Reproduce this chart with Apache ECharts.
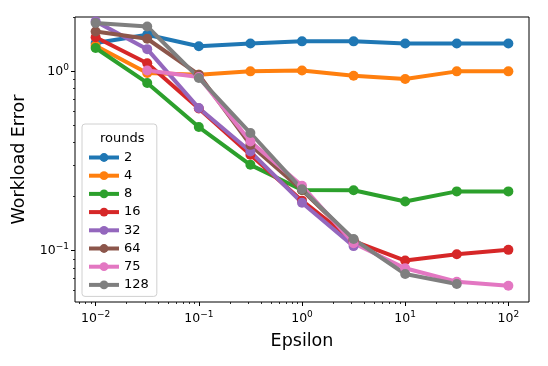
<!DOCTYPE html>
<html>
<head>
<meta charset="utf-8">
<script src="https://cdn.jsdelivr.net/npm/echarts@6/dist/echarts.min.js"></script>
<style>
  html, body { margin: 0; padding: 0; background: #fff; }
  #chart { width: 548px; height: 366px; }
</style>
</head>
<body>
<div id="chart"></div>
<script>
// epsilon values (x)
var epsilon = [0.01, 0.03162, 0.1, 0.3162, 1, 3.162, 10, 31.62, 100]

// workload error per number of rounds (null = no point)
var rounds = ['2', '4', '8', '16', '32', '64', '75', '128']
var err2 = [1.44, 1.60, 1.38, 1.43, 1.47, 1.47, 1.43, 1.43, 1.43]
var err4 = [1.39, 0.98, 0.958, 1.0, 1.01, 0.946, 0.907, 1.0, 1.0]
var err8 = [1.35, 0.862, 0.489, 0.301, 0.218, 0.217, 0.188, 0.214, 0.214]
var err16 = [1.55, 1.11, 0.62, 0.343, 0.19, 0.113, 0.088, 0.0955, 0.101]
var err32 = [1.90, 1.33, 0.624, 0.357, 0.185, 0.106, null, null, null]
var err64 = [1.67, 1.52, 0.958, 0.389, 0.218, 0.115, null, null, null]
var err75 = [null, 1.01, 0.93, 0.406, 0.23, 0.11, 0.0797, 0.0671, 0.0637]
var err128 = [1.86, 1.78, 0.919, 0.453, 0.22, 0.116, 0.0741, 0.0652, null]

// tick values
var xMajor = [0.01, 0.1, 1, 10, 100]
var yMajor = [0.1, 1]

var colors = ['#1f77b4', '#ff7f0e', '#2ca02c', '#d62728', '#9467bd', '#8c564b', '#e377c2', '#7f7f7f']
var allErr = [err2, err4, err8, err16, err32, err64, err75, err128]

function minorTicks(lo, hi) {
  var out = []
  for (var e = -3; e <= 2; e++) {
    for (var m = 2; m <= 9; m++) {
      var v = m * Math.pow(10, e)
      if (v >= lo && v <= hi) out.push(v)
    }
  }
  return out
}

var xMin = Math.pow(10, -2.2)
var xMax = Math.pow(10, 2.2)
var yMin = 0.0517
var yMax = 2.01

function powLabel(v) {
  var e = Math.round(Math.log10(v))
  return '{b|10}{s|' + String(e).replace('-', '\u2212') + '}'
}

var labelRich = {
  b: { fontSize: 12.5, fontFamily: 'DejaVu Sans', color: '#000' },
  s: { fontSize: 9, fontFamily: 'DejaVu Sans', color: '#000', padding: [0, 0, 8, 0] }
}

var series = rounds.map(function(name, k) {
  var pts = []
  allErr[k].forEach(function(v, i) {
    if (v !== null) pts.push([epsilon[i], v])
  })
  return {
    name: name,
    type: 'line',
    data: pts,
    symbol: 'circle',
    symbolSize: 10,
    showSymbol: true,
    lineStyle: { width: 4, color: colors[k] },
    itemStyle: { color: colors[k] },
    emphasis: { disabled: true },
    animation: false
  }
})

var chart = echarts.init(document.getElementById('chart'), null, { renderer: 'canvas' })
chart.setOption({
  backgroundColor: '#fff',
  animation: false,
  title: {
    text: 'rounds',
    left: 95,
    top: 127,
    textStyle: { fontSize: 13, fontWeight: 'normal', fontFamily: 'DejaVu Sans', color: '#000' }
  },
  legend: {
    orient: 'vertical',
    left: 82,
    top: 124,
    padding: [27, 8, 5, 5],
    itemWidth: 30,
    itemHeight: 11,
    itemGap: 5.2,
    borderColor: '#d0d0d0',
    borderWidth: 1,
    borderRadius: 3,
    backgroundColor: 'rgba(255,255,255,0.8)',
    lineStyle: { width: 4 },
    textStyle: { fontSize: 13, fontFamily: 'DejaVu Sans', color: '#000' },
    data: rounds
  },
  grid: {
    left: 75,
    right: 19,
    top: 17,
    bottom: 64,
    show: true,
    borderColor: '#000',
    borderWidth: 1,
    backgroundColor: 'transparent'
  },
  xAxis: [{
    type: 'log',
    min: xMin,
    max: xMax,
    name: 'Epsilon',
    nameLocation: 'middle',
    nameGap: 30,
    nameTextStyle: { fontSize: 17.5, fontFamily: 'DejaVu Sans', color: '#000' },
    axisLine: { show: false },
    axisTick: { show: true, length: 4, inside: false, customValues: xMajor, lineStyle: { color: '#000', width: 1 } },
    axisLabel: { show: true, margin: 8, customValues: xMajor, formatter: powLabel, rich: labelRich },
    splitLine: { show: false }
  }, {
    type: 'log',
    min: xMin,
    max: xMax,
    position: 'bottom',
    axisLine: { show: false },
    axisTick: { show: true, length: 2, customValues: minorTicks(xMin, xMax), lineStyle: { color: '#000', width: 0.8 } },
    axisLabel: { show: false },
    splitLine: { show: false }
  }],
  yAxis: [{
    type: 'log',
    min: yMin,
    max: yMax,
    name: 'Workload Error',
    nameLocation: 'middle',
    nameGap: 41,
    nameTextStyle: { fontSize: 17.5, fontFamily: 'DejaVu Sans', color: '#000' },
    axisLine: { show: false },
    axisTick: { show: true, length: 4, customValues: yMajor, lineStyle: { color: '#000', width: 1 } },
    axisLabel: { show: true, margin: 6, customValues: yMajor, formatter: powLabel, rich: labelRich },
    splitLine: { show: false }
  }, {
    type: 'log',
    min: yMin,
    max: yMax,
    position: 'left',
    axisLine: { show: false },
    axisTick: { show: true, length: 2, customValues: minorTicks(yMin, yMax), lineStyle: { color: '#000', width: 0.8 } },
    axisLabel: { show: false },
    splitLine: { show: false }
  }],
  series: series
})
</script>
</body>
</html>
